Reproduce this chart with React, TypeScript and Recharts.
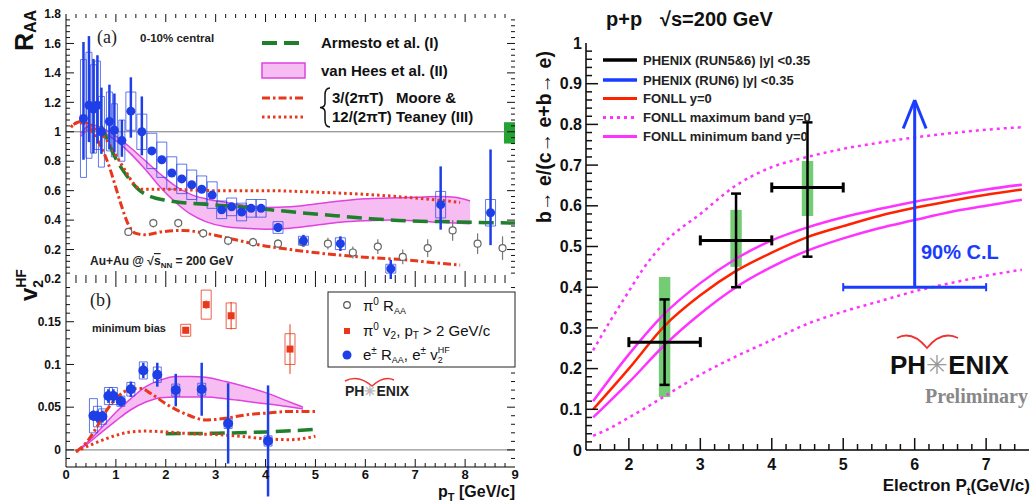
import React from "react";
import {
  ComposedChart,
  Line,
  Area,
  Scatter,
  XAxis,
  YAxis,
  ErrorBar,
  ReferenceArea,
  ReferenceLine,
} from "recharts";

const SANS = "'Liberation Sans', Arial, Helvetica, sans-serif";
const NARROW = "'Liberation Sans Narrow', 'Liberation Sans', Arial, sans-serif";
const SERIF = "'Liberation Serif', 'Times New Roman', serif";

// ---------- ticks ----------
const ptTicks = [0, 1, 2, 3, 4, 5, 6, 7, 8, 9];
const raaTicks = [0.2, 0.4, 0.6, 0.8, 1, 1.2, 1.4, 1.6, 1.8];
const v2Ticks = [0, 0.05, 0.1, 0.15, 0.2];
const elPtTicks = [2, 3, 4, 5, 6, 7];
const fracTicks = [0, 0.1, 0.2, 0.3, 0.4, 0.5, 0.6, 0.7, 0.8, 0.9, 1];

// ---------- panel (a): R_AA 0-10% central ----------
const eRaaPt = [0.35, 0.46, 0.55, 0.63, 0.71, 0.87, 0.97, 1.12, 1.3, 1.52, 1.72, 1.92, 2.12, 2.32, 2.52, 2.72, 2.93, 3.12, 3.32, 3.52, 3.71, 3.91, 4.25, 4.76, 5.5, 6.51, 7.51, 8.51];
const eRaa = [1.09, 1.18, 1.155, 1.18, 1.0, 1.07, 1.01, 0.94, 1.14, 1.0, 0.87, 0.81, 0.72, 0.68, 0.64, 0.61, 0.57, 0.47, 0.49, 0.455, 0.48, 0.48, 0.35, 0.26, 0.24, 0.07, 0.505, 0.45];
const eRaaStatLo = [0.28, 0.25, 0.3, 0.26, 0.15, 0.19, 0.15, 0.11, 0.18, 0.16, 0.02, 0.02, 0.02, 0.02, 0.02, 0.02, 0.02, 0.02, 0.02, 0.02, 0.02, 0.02, 0.03, 0.04, 0.05, 0.07, 0.17, 0.22];
const eRaaStatHi = [0.52, 0.47, 0.34, 0.34, 0.3, 0.25, 0.25, 0.14, 0.23, 0.24, 0.02, 0.02, 0.02, 0.02, 0.02, 0.02, 0.02, 0.02, 0.02, 0.02, 0.02, 0.02, 0.03, 0.04, 0.05, 0.06, 0.26, 0.43];
const eRaaSys = [0.4, 0.36, 0.3, 0.3, 0.24, 0.2, 0.18, 0.14, 0.13, 0.12, 0.12, 0.12, 0.11, 0.1, 0.1, 0.09, 0.09, 0.06, 0.06, 0.06, 0.06, 0.06, 0.04, 0.03, 0.04, 0.03, 0.09, 0.09];

const pi0Pt = [1.25, 1.75, 2.25, 2.75, 3.25, 3.75, 4.25, 4.75, 5.25, 5.75, 6.25, 6.75, 7.25, 7.75, 8.25, 8.75];
const pi0Raa = [0.32, 0.38, 0.38, 0.31, 0.26, 0.25, 0.24, 0.25, 0.24, 0.18, 0.22, 0.15, 0.21, 0.33, 0.24, 0.21];
const pi0RaaErr = [0.02, 0.03, 0.03, 0.03, 0.03, 0.03, 0.03, 0.03, 0.04, 0.04, 0.05, 0.05, 0.06, 0.07, 0.07, 0.08];

const armPt = [0.7, 0.8, 0.95, 1.2, 1.48, 1.7, 2.0, 2.3, 2.9, 3.5, 4.1, 4.7, 5.4, 6.1, 6.8, 7.5, 8.2, 9.0];
const armRaa = [1.04, 0.97, 0.85, 0.71, 0.6, 0.56, 0.535, 0.52, 0.505, 0.49, 0.47, 0.45, 0.43, 0.41, 0.395, 0.39, 0.385, 0.38];

const vhPt = [0.3, 0.5, 0.7, 1.0, 1.3, 1.6, 1.9, 2.2, 2.5, 2.8, 3.2, 3.6, 4.0, 4.5, 5.0, 5.5, 6.0, 6.5, 7.0, 7.5, 7.8, 8.1];
const vhLo = [0.97, 1.02, 1.0, 0.94, 0.85, 0.74, 0.62, 0.52, 0.44, 0.39, 0.355, 0.345, 0.338, 0.345, 0.365, 0.385, 0.395, 0.4, 0.395, 0.385, 0.38, 0.375];
const vhHi = [0.99, 1.05, 1.03, 0.97, 0.89, 0.8, 0.71, 0.63, 0.575, 0.545, 0.52, 0.5, 0.485, 0.49, 0.51, 0.53, 0.545, 0.55, 0.555, 0.56, 0.555, 0.53];

const mt12Pt = [0.1, 0.2, 0.4, 0.6, 0.8, 1.0, 1.2, 1.35, 1.5, 2.0, 3.0, 4.0, 5.0, 6.0, 7.0, 7.5, 7.9];
const mt12Raa = [1.03, 1.06, 1.06, 1.02, 0.95, 0.84, 0.73, 0.65, 0.61, 0.61, 0.6, 0.6, 0.59, 0.575, 0.55, 0.535, 0.52];
const mt3Pt = [0.15, 0.3, 0.5, 0.7, 0.85, 1.0, 1.1, 1.25, 1.4, 1.6, 1.9, 2.35, 2.8, 3.35, 3.9, 4.5, 5.4, 6.1, 6.8, 7.4, 7.9];
const mt3Raa = [1.05, 1.07, 1.01, 0.9, 0.78, 0.62, 0.51, 0.37, 0.31, 0.3, 0.32, 0.33, 0.31, 0.27, 0.23, 0.2, 0.165, 0.145, 0.13, 0.11, 0.095];

// ---------- panel (b): v2 minimum bias ----------
const v2Pt = [0.55, 0.63, 0.73, 0.85, 0.95, 1.1, 1.3, 1.55, 1.83, 2.2, 2.72, 3.25, 4.05];
const v2 = [0.04, 0.039, 0.039, 0.063, 0.063, 0.057, 0.071, 0.093, 0.088, 0.07, 0.071, 0.031, 0.0105];
const v2Stat = [0.006, 0.007, 0.007, 0.008, 0.008, 0.006, 0.009, 0.009, 0.014, 0.019, 0.031, 0.047, 0.065];
const v2Sys = [0.02, 0.012, 0.009, 0.01, 0.01, 0.006, 0.008, 0.01, 0.009, 0.007, 0.007, 0.006, 0.006];

const pi0V2Pt = [2.4, 2.81, 3.31, 4.49];
const pi0V2 = [0.14, 0.17, 0.157, 0.118];
const pi0V2Stat = [0.004, 0.005, 0.016, 0.029];
const pi0V2Sys = [0.007, 0.017, 0.015, 0.018];

const vhbPt = [0.2, 0.45, 0.7, 1.0, 1.3, 1.6, 1.9, 2.2, 2.5, 2.8, 3.2, 3.6, 4.0, 4.4, 4.75];
const vhbLo = [-0.002, 0.008, 0.02, 0.034, 0.047, 0.056, 0.061, 0.062, 0.062, 0.062, 0.06, 0.057, 0.054, 0.051, 0.048];
const vhbHi = [-0.002, 0.01, 0.025, 0.044, 0.06, 0.074, 0.082, 0.086, 0.086, 0.085, 0.08, 0.074, 0.067, 0.058, 0.05];

const mt3bPt = [0.2, 0.4, 0.6, 0.8, 1.0, 1.3, 1.5, 1.7, 2.0, 2.4, 2.8, 3.2, 3.6, 4.0, 4.5, 5.0];
const mt3bV2 = [-0.002, 0.008, 0.025, 0.045, 0.06, 0.071, 0.072, 0.066, 0.054, 0.042, 0.035, 0.037, 0.041, 0.043, 0.045, 0.045];
const mt12bPt = [0.2, 0.5, 0.8, 1.0, 1.3, 1.6, 2.0, 2.5, 3.0, 3.5, 4.0, 4.5, 5.0];
const mt12bV2 = [-0.002, 0.006, 0.013, 0.017, 0.021, 0.022, 0.021, 0.019, 0.018, 0.016, 0.013, 0.012, 0.016];
const armbPt = [2.0, 3.0, 4.0, 5.0];
const armbV2 = [0.019, 0.0195, 0.021, 0.024];

// ---------- right: b/(c+b) in p+p ----------
const binCenter = [2.5, 3.5, 4.5];
const binHalf = [0.5, 0.5, 0.5];
const ratio = [0.265, 0.515, 0.645];
const ratioStatLo = [0.105, 0.115, 0.17];
const ratioStatHi = [0.105, 0.115, 0.16];
const ratioSysLo = [0.135, 0.065, 0.07];
const ratioSysHi = [0.16, 0.075, 0.065];

const limitPt = [5, 7];
const limitLow = 0.4;
const limitTop = 0.86;

const fonllPt = [1.5, 2.0, 2.5, 3.0, 3.5, 4.0, 4.5, 5.0, 5.5, 6.0, 6.5, 7.0, 7.5];
const fonll = [0.1, 0.2, 0.305, 0.38, 0.44, 0.485, 0.523, 0.55, 0.575, 0.595, 0.612, 0.627, 0.64];
const fonllMinHi = [0.12, 0.235, 0.335, 0.41, 0.47, 0.515, 0.547, 0.572, 0.592, 0.61, 0.625, 0.64, 0.652];
const fonllMinLo = [0.08, 0.166, 0.258, 0.335, 0.4, 0.45, 0.49, 0.52, 0.545, 0.565, 0.585, 0.6, 0.615];
const fonllMaxPt = [1.5, 1.75, 2.0, 2.2, 2.5, 3.0, 3.5, 4.0, 4.5, 5.0, 5.5, 6.0, 6.5, 7.0, 7.5];
const fonllMaxHi = [0.245, 0.32, 0.39, 0.445, 0.51, 0.58, 0.65, 0.695, 0.72, 0.74, 0.755, 0.768, 0.778, 0.787, 0.793];
const fonllMaxLo = [0.035, 0.055, 0.08, 0.1, 0.132, 0.185, 0.23, 0.27, 0.31, 0.34, 0.365, 0.39, 0.41, 0.428, 0.443];

// ---------- helpers ----------
const steps = (a: number, b: number, s: number) => {
  const n = Math.round((b - a) / s);
  return Array.from({ length: n + 1 }, (_, i) => +(a + i * s).toFixed(4));
};
const pts = (xs: number[], ys: number[]) => xs.map((x, i) => ({ x, y: ys[i] }));
const band = (xs: number[], lo: number[], hi: number[]) => xs.map((x, i) => ({ x, r: [lo[i], hi[i]] }));
const isMaj = (arr: number[], v: number) => arr.some((m) => Math.abs(m - v) < 1e-6);

const BLUE = "#1f3fe6";
const RED = "#e8381c";
const GREEN = "#1f7f2a";
const MAG = "#e042e0";
const MAGFILL = "#f6bdf3";

// plot frames of the three panels (must match the chart margins below)
const FRAME_A = { x0: 66, x1: 515, y0: 14, y1: 279, xd: [0, 9], yd: [0, 1.8] };
const FRAME_B = { x0: 66, x1: 515, y0: 279, y1: 467, xd: [0, 9], yd: [-0.02, 0.2] };
const FRAME_C = { x0: 586, x1: 1029, y0: 43, y1: 450, xd: [1.4, 7.6], yd: [0, 1] };

function tickLabel(side: string, majors: number[], o: any = {}) {
  const { fmt = (v: number) => String(v), size = 12, font = SANS, off = 12 } = o;
  return (p: any) => {
    const { x, y, payload } = p;
    const v = payload.value;
    if (!isMaj(majors, v)) return <g />;
    if (side === "bottom")
      return (
        <text x={x} y={y + off} textAnchor="middle" fontFamily={font} fontSize={size} fontWeight="bold" fill="#111">
          {fmt(v)}
        </text>
      );
    return (
      <text x={x - off} y={y} dy="0.35em" textAnchor="end" fontFamily={font} fontSize={size} fontWeight="bold" fill="#111">
        {fmt(v)}
      </text>
    );
  };
}

const blank = () => <g />;

// ROOT-style inward tick marks around a frame
function FrameTicks({ f, xs, xMaj, ys, yMaj, sides, long = 8, short = 4, w = 1 }: any) {
  const px = (v: number) => f.x0 + ((v - f.xd[0]) / (f.xd[1] - f.xd[0])) * (f.x1 - f.x0);
  const py = (v: number) => f.y1 - ((v - f.yd[0]) / (f.yd[1] - f.yd[0])) * (f.y1 - f.y0);
  const inner = (v: number, d: number[]) => v > d[0] + 1e-6 && v < d[1] - 1e-6;
  const out: any[] = [];
  xs.filter((v: number) => inner(v, f.xd)).forEach((t: number, i: number) => {
    const L = isMaj(xMaj, t) ? long : short;
    const x = px(t);
    if (sides.includes("bottom")) out.push(<line key={"b" + i} x1={x} y1={f.y1} x2={x} y2={f.y1 - L} />);
    if (sides.includes("top")) out.push(<line key={"t" + i} x1={x} y1={f.y0} x2={x} y2={f.y0 + L} />);
  });
  ys.filter((v: number) => inner(v, f.yd)).forEach((t: number, i: number) => {
    const L = isMaj(yMaj, t) ? long : short;
    const y = py(t);
    if (sides.includes("left")) out.push(<line key={"l" + i} x1={f.x0} y1={y} x2={f.x0 + L} y2={y} />);
    if (sides.includes("right")) out.push(<line key={"r" + i} x1={f.x1} y1={y} x2={f.x1 - L} y2={y} />);
  });
  return (
    <g stroke="#111" strokeWidth={w}>
      {out}
    </g>
  );
}

function PanelA() {
  const blue = eRaaPt.map((x, i) => ({ x, y: eRaa[i], e: [eRaaStatLo[i], eRaaStatHi[i]] }));
  const gray = pi0Pt.map((x, i) => ({ x, y: pi0Raa[i], e: pi0RaaErr[i] }));
  return (
    <div style={{ position: "absolute", left: 0, top: 0 }}>
      <ComposedChart width={525} height={285} margin={{ top: 14, right: 10, bottom: 6, left: 10 }}>
        <XAxis dataKey="x" type="number" domain={[0, 9]} ticks={ptTicks} interval={0} allowDataOverflow height={0} tickLine={false} axisLine={{ stroke: "#000" }} tick={blank} />
        <XAxis xAxisId="top" orientation="top" type="number" domain={[0, 9]} height={0} tick={false} tickLine={false} axisLine={{ stroke: "#000" }} />
        <YAxis dataKey="y" type="number" domain={[0, 1.8]} ticks={raaTicks} interval={0} allowDataOverflow width={56} tickSize={0} tickMargin={0} tickLine={false} axisLine={{ stroke: "#000" }} tick={tickLabel("left", raaTicks, { off: 5, size: 12, fmt: (v: number) => (v === 1 ? "1" : v.toFixed(1)) })} />
        <YAxis yAxisId="right" orientation="right" type="number" domain={[0, 1.8]} width={0} tick={false} tickLine={false} axisLine={{ stroke: "#000" }} />
        <ReferenceLine y={1} stroke="#777" strokeWidth={1} />
        <ReferenceArea x1={8.78} x2={9} y1={0.92} y2={1.065} fill="#22a332" fillOpacity={1} stroke="none" ifOverflow="hidden" />
        <Area data={band(vhPt, vhLo, vhHi)} dataKey="r" type="monotone" stroke={MAG} strokeWidth={1.5} fill={MAGFILL} fillOpacity={1} isAnimationActive={false} />
        <Line data={pts(armPt, armRaa)} dataKey="y" type="monotone" dot={false} stroke={GREEN} strokeWidth={3.5} strokeDasharray="15 7" isAnimationActive={false} />
        <Line data={pts(mt12Pt, mt12Raa)} dataKey="y" type="monotone" dot={false} stroke={RED} strokeWidth={3} strokeDasharray="2.5 3" isAnimationActive={false} />
        <Line data={pts(mt3Pt, mt3Raa)} dataKey="y" type="monotone" dot={false} stroke={RED} strokeWidth={3} strokeDasharray="8 3 2.5 3" isAnimationActive={false} />
        {eRaaPt.map((x, i) => (
          <ReferenceArea key={i} x1={x - (x < 1.2 ? 0.06 : 0.1)} x2={x + (x < 1.2 ? 0.06 : 0.1)} y1={eRaa[i] - eRaaSys[i]} y2={eRaa[i] + eRaaSys[i]} fill="none" stroke={BLUE} strokeOpacity={0.7} strokeWidth={1} ifOverflow="hidden" />
        ))}
        <Scatter data={gray} dataKey="y" isAnimationActive={false} shape={(p: any) => <circle cx={p.cx} cy={p.cy} r={3.5} fill="#fff" stroke="#666" strokeWidth={1.2} />}>
          <ErrorBar dataKey="e" direction="y" width={0} stroke="#777" strokeWidth={1.2} />
        </Scatter>
        <Scatter data={blue} dataKey="y" isAnimationActive={false} shape={(p: any) => <circle cx={p.cx} cy={p.cy} r={4.5} fill={BLUE} />}>
          <ErrorBar dataKey="e" direction="y" width={0} stroke={BLUE} strokeWidth={2.5} />
        </Scatter>
      </ComposedChart>
    </div>
  );
}

function PanelB() {
  const blue = v2Pt.map((x, i) => ({ x, y: v2[i], e: v2Stat[i] }));
  const red = pi0V2Pt.map((x, i) => ({ x, y: pi0V2[i], e: pi0V2Stat[i] }));
  return (
    <div style={{ position: "absolute", left: 0, top: 270 }}>
      <ComposedChart width={525} height={234} margin={{ top: 9, right: 10, bottom: 7, left: 10 }}>
        <XAxis dataKey="x" type="number" domain={[0, 9]} ticks={ptTicks} interval={0} allowDataOverflow height={30} tickSize={0} tickMargin={0} tickLine={false} axisLine={{ stroke: "#000" }} tick={tickLabel("bottom", ptTicks, { off: 12, size: 13 })} />
        <XAxis xAxisId="top" orientation="top" type="number" domain={[0, 9]} height={0} tick={false} tickLine={false} axisLine={{ stroke: "#000" }} />
        <YAxis dataKey="y" type="number" domain={[-0.02, 0.2]} ticks={v2Ticks} interval={0} allowDataOverflow width={56} tickSize={0} tickMargin={0} tickLine={false} axisLine={{ stroke: "#000" }} tick={tickLabel("left", v2Ticks, { off: 5, size: 12 })} />
        <YAxis yAxisId="right" orientation="right" type="number" domain={[-0.02, 0.2]} width={0} tick={false} tickLine={false} axisLine={{ stroke: "#000" }} />
        <ReferenceLine y={0} stroke="#777" strokeWidth={1} />
        <Area data={band(vhbPt, vhbLo, vhbHi)} dataKey="r" type="monotone" stroke={MAG} strokeWidth={1.5} fill={MAGFILL} fillOpacity={1} isAnimationActive={false} />
        <Line data={pts(armbPt, armbV2)} dataKey="y" type="monotone" dot={false} stroke={GREEN} strokeWidth={3.5} strokeDasharray="15 7" isAnimationActive={false} />
        <Line data={pts(mt12bPt, mt12bV2)} dataKey="y" type="monotone" dot={false} stroke={RED} strokeWidth={3} strokeDasharray="2.5 3" isAnimationActive={false} />
        <Line data={pts(mt3bPt, mt3bV2)} dataKey="y" type="monotone" dot={false} stroke={RED} strokeWidth={3} strokeDasharray="8 3 2.5 3" isAnimationActive={false} />
        {v2Pt.map((x, i) => (
          <ReferenceArea key={"b" + i} x1={x - 0.08} x2={x + 0.08} y1={v2[i] - v2Sys[i]} y2={v2[i] + v2Sys[i]} fill="none" stroke={BLUE} strokeOpacity={0.7} strokeWidth={1} ifOverflow="hidden" />
        ))}
        {pi0V2Pt.map((x, i) => (
          <ReferenceArea key={"r" + i} x1={x - 0.1} x2={x + 0.1} y1={pi0V2[i] - pi0V2Sys[i]} y2={pi0V2[i] + pi0V2Sys[i]} fill="none" stroke={RED} strokeOpacity={0.8} strokeWidth={1} ifOverflow="hidden" />
        ))}
        <Scatter data={red} dataKey="y" isAnimationActive={false} shape={(p: any) => <rect x={p.cx - 3.5} y={p.cy - 3.5} width={7} height={7} fill={RED} />}>
          <ErrorBar dataKey="e" direction="y" width={0} stroke={RED} strokeWidth={1} />
        </Scatter>
        <Scatter data={blue} dataKey="y" isAnimationActive={false} shape={(p: any) => <circle cx={p.cx} cy={p.cy} r={5} fill={BLUE} />}>
          <ErrorBar dataKey="e" direction="y" width={0} stroke={BLUE} strokeWidth={2.5} />
        </Scatter>
      </ComposedChart>
    </div>
  );
}

function PanelC() {
  const cross = binCenter.map((x, i) => ({ x, y: ratio[i], ex: binHalf[i], ey: [ratioStatLo[i], ratioStatHi[i]] }));
  const AB = "#1a3cff";
  return (
    <div style={{ position: "absolute", left: 530, top: 0 }}>
      <ComposedChart width={503} height={504} margin={{ top: 43, right: 4, bottom: 24, left: 10 }}>
        <XAxis dataKey="x" type="number" domain={[1.4, 7.6]} ticks={elPtTicks} interval={0} allowDataOverflow height={30} tickSize={0} tickMargin={0} tickLine={false} axisLine={{ stroke: "#000", strokeWidth: 1.5 }} tick={tickLabel("bottom", elPtTicks, { off: 20, size: 16, font: NARROW })} />
        <XAxis xAxisId="top" orientation="top" type="number" domain={[1.4, 7.6]} height={0} tick={false} tickLine={false} axisLine={{ stroke: "#000" }} />
        <YAxis dataKey="y" type="number" domain={[0, 1]} ticks={fracTicks} interval={0} allowDataOverflow width={46} tickSize={0} tickMargin={0} tickLine={false} axisLine={{ stroke: "#000", strokeWidth: 1.5 }} tick={tickLabel("left", fracTicks, { off: 4, size: 16, font: NARROW, fmt: (v: number) => (v === 0 ? "0" : v === 1 ? "1" : v.toFixed(1)) })} />
        <YAxis yAxisId="right" orientation="right" type="number" domain={[0, 1]} width={0} tick={false} tickLine={false} axisLine={{ stroke: "#000" }} />
        <Line data={pts(fonllMaxPt, fonllMaxHi)} dataKey="y" type="monotone" dot={false} stroke="#ff33ff" strokeWidth={2.5} strokeDasharray="3 4" isAnimationActive={false} />
        <Line data={pts(fonllMaxPt, fonllMaxLo)} dataKey="y" type="monotone" dot={false} stroke="#ff33ff" strokeWidth={2.5} strokeDasharray="3 4" isAnimationActive={false} />
        <Line data={pts(fonllPt, fonllMinHi)} dataKey="y" type="monotone" dot={false} stroke="#ff33ff" strokeWidth={2.5} isAnimationActive={false} />
        <Line data={pts(fonllPt, fonllMinLo)} dataKey="y" type="monotone" dot={false} stroke="#ff33ff" strokeWidth={2.5} isAnimationActive={false} />
        <Line data={pts(fonllPt, fonll)} dataKey="y" type="monotone" dot={false} stroke="#ff2200" strokeWidth={2.5} isAnimationActive={false} />
        {binCenter.map((x, i) => (
          <ReferenceArea key={i} x1={x - 0.08} x2={x + 0.08} y1={ratio[i] - ratioSysLo[i]} y2={ratio[i] + ratioSysHi[i]} fill="#5cc45c" fillOpacity={0.85} stroke="none" />
        ))}
        <Scatter data={cross} dataKey="y" isAnimationActive={false} shape={(p: any) => <circle cx={p.cx} cy={p.cy} r={2} fill="#000" />}>
          <ErrorBar dataKey="ex" direction="x" width={5} stroke="#000" strokeWidth={3} />
          <ErrorBar dataKey="ey" direction="y" width={5} stroke="#000" strokeWidth={2.5} />
        </Scatter>
        <ReferenceLine segment={[{ x: limitPt[0], y: limitLow }, { x: limitPt[1], y: limitLow }]} stroke={AB} strokeWidth={3} />
        <ReferenceLine segment={[{ x: limitPt[0], y: limitLow - 0.01 }, { x: limitPt[0], y: limitLow + 0.01 }]} stroke={AB} strokeWidth={2} />
        <ReferenceLine segment={[{ x: limitPt[1], y: limitLow - 0.01 }, { x: limitPt[1], y: limitLow + 0.01 }]} stroke={AB} strokeWidth={2} />
        <ReferenceLine segment={[{ x: 6, y: limitLow }, { x: 6, y: limitTop }]} stroke={AB} strokeWidth={3} />
        <ReferenceLine segment={[{ x: 5.84, y: limitTop - 0.07 }, { x: 6, y: limitTop }]} stroke={AB} strokeWidth={3} />
        <ReferenceLine segment={[{ x: 6.16, y: limitTop - 0.07 }, { x: 6, y: limitTop }]} stroke={AB} strokeWidth={3} />
      </ComposedChart>
    </div>
  );
}

function Overlay() {
  const legA = { fontFamily: SANS, fontWeight: "bold" as const, fontSize: 15, fill: "#111" };
  const legR = { fontFamily: NARROW, fontWeight: "bold" as const, fontSize: 13, fill: "#222" };
  return (
    <svg width={1033} height={504} style={{ position: "absolute", left: 0, top: 0, pointerEvents: "none" }}>
      <FrameTicks f={FRAME_A} xs={steps(0, 9, 0.2)} xMaj={ptTicks} ys={steps(0, 1.8, 0.04)} yMaj={raaTicks} sides={["bottom", "top", "left", "right"]} />
      <FrameTicks f={FRAME_B} xs={steps(0, 9, 0.2)} xMaj={ptTicks} ys={steps(-0.02, 0.2, 0.01)} yMaj={v2Ticks} sides={["bottom", "top", "left", "right"]} />
      <FrameTicks f={FRAME_C} xs={steps(1.4, 7.6, 0.2)} xMaj={elPtTicks} ys={steps(0, 1, 0.02)} yMaj={fracTicks} sides={["bottom", "left"]} long={12} short={6} w={1.5} />

      {/* panel (a) */}
      <text transform="translate(33,51) rotate(-90)" fontFamily={SANS} fontWeight="bold" fontSize={25} fill="#111">
        R<tspan fontSize={16} dy={3}>AA</tspan>
      </text>
      <text transform="translate(37,301) rotate(-90)" fontFamily={SANS} fontWeight="bold" fontSize={24} fill="#111">
        v<tspan fontSize={14} dy={6}>2</tspan>
        <tspan fontSize={14} dx={-8} dy={-17}>HF</tspan>
      </text>
      <text x={97} y={43} fontFamily={SERIF} fontSize={18} fill="#222">(a)</text>
      <text x={140} y={42} fontFamily={SANS} fontWeight="bold" fontSize={11.5} fill="#222">0-10% central</text>
      <line x1={262} y1={43} x2={305} y2={43} stroke={GREEN} strokeWidth={4} strokeDasharray="15 7" />
      <text x={321} y={48} {...legA}>Armesto et al. (I)</text>
      <rect x={262} y={63} width={43} height={15} fill={MAGFILL} stroke={MAG} strokeWidth={1.5} />
      <text x={321} y={76} {...legA}>van Hees et al. (II)</text>
      <line x1={262} y1={98} x2={305} y2={98} stroke={RED} strokeWidth={3} strokeDasharray="8 3 2.5 3" />
      <line x1={262} y1={117} x2={305} y2={117} stroke={RED} strokeWidth={3} strokeDasharray="2.5 3" />
      <path d="M330,88 Q325,88 325,95 L325,103 Q325,107.5 320,107.5 Q325,108 325,112 L325,120 Q325,127 330,127" fill="none" stroke="#111" strokeWidth={1.5} />
      <text x={332} y={103} {...legA}>3/(2πT)</text>
      <text x={332} y={122} {...legA}>12/(2πT)</text>
      <text x={396} y={103} {...legA}>Moore &amp;</text>
      <text x={396} y={122} {...legA}>Teaney (III)</text>
      <text x={90} y={265} fontFamily={SANS} fontWeight="bold" fontSize={12} fill="#222">
        Au+Au @ √<tspan textDecoration="overline">s</tspan>
        <tspan fontSize={8} dy={3}>NN</tspan>
        <tspan dy={-3}> = 200 GeV</tspan>
      </text>

      {/* panel (b) */}
      <text x={90} y={306} fontFamily={SERIF} fontSize={18} fill="#222">(b)</text>
      <text x={92} y={332} fontFamily={SANS} fontWeight="bold" fontSize={11} fill="#222">minimum bias</text>
      <rect x={328} y={292} width={187} height={75} fill="#fff" stroke="#222" strokeWidth={1} />
      <circle cx={347} cy={305} r={3.3} fill="#fff" stroke="#555" strokeWidth={1.2} />
      <text x={363} y={311} fontFamily={SANS} fontSize={15} fill="#111">
        π<tspan fontSize={10} dy={-6}>0</tspan>
        <tspan dy={6}> R</tspan>
        <tspan fontSize={9} dy={3}>AA</tspan>
      </text>
      <rect x={344} y={328} width={6} height={6} fill={RED} />
      <text x={363} y={336} fontFamily={SANS} fontSize={15} fill="#111">
        π<tspan fontSize={10} dy={-6}>0</tspan>
        <tspan dy={6}> v</tspan>
        <tspan fontSize={10} dy={3}>2</tspan>
        <tspan dy={-3}>, p</tspan>
        <tspan fontSize={10} dy={3}>T</tspan>
        <tspan dy={-3}> &gt; 2 GeV/c</tspan>
      </text>
      <circle cx={347} cy={355} r={4.5} fill={BLUE} />
      <text x={363} y={360} fontFamily={SANS} fontSize={15} fill="#111">
        e<tspan fontSize={10} dy={-6}>±</tspan>
        <tspan dy={6}> R</tspan>
        <tspan fontSize={9} dy={3}>AA</tspan>
        <tspan dy={-3}>, e</tspan>
        <tspan fontSize={10} dy={-6}>±</tspan>
        <tspan dy={6}> v</tspan>
        <tspan fontSize={9} dy={3}>2</tspan>
        <tspan fontSize={9} dx={-5} dy={-10}>HF</tspan>
      </text>
      <path d="M345,381 Q358,374 372,386 Q384,375 394,380" fill="none" stroke="#e33" strokeWidth={1.5} />
      <text x={345} y={396} fontFamily={SANS} fontWeight="bold" fontSize={14} fill="#222">
        PH<tspan fill="#bbb">✳</tspan>ENIX
      </text>
      <text x={515} y={497} textAnchor="end" fontFamily={SANS} fontWeight="bold" fontSize={16} fill="#111">
        p<tspan fontSize={11} dy={4}>T</tspan>
        <tspan dy={-4}> [GeV/c]</tspan>
      </text>

      {/* right panel */}
      <text x={606} y={26} fontFamily={NARROW} fontWeight="bold" fontSize={20} fill="#111">p+p</text>
      <text x={660} y={26} fontFamily={NARROW} fontWeight="bold" fontSize={20} fill="#111">√s=200 GeV</text>
      <text transform="translate(551,137) rotate(-90)" textAnchor="middle" fontFamily={NARROW} fontWeight="bold" fontSize={19.5} fill="#111">
        b→ e/(c→ e+b→ e)
      </text>
      <line x1={603} y1={60} x2={637} y2={60} stroke="#000" strokeWidth={3.5} />
      <text x={643} y={64.5} {...legR}>PHENIX (RUN5&amp;6) |y| &lt;0.35</text>
      <line x1={603} y1={80} x2={637} y2={80} stroke="#1a3cff" strokeWidth={3.5} />
      <text x={643} y={84.5} {...legR}>PHENIX (RUN6) |y| &lt;0.35</text>
      <line x1={603} y1={98.5} x2={637} y2={98.5} stroke="#ff2200" strokeWidth={3} />
      <text x={643} y={103} {...legR}>FONLL y=0</text>
      <line x1={603} y1={117.5} x2={637} y2={117.5} stroke="#ff33ff" strokeWidth={3} strokeDasharray="3 4" />
      <text x={643} y={122} {...legR}>FONLL maximum band y=0</text>
      <line x1={603} y1={136.5} x2={637} y2={136.5} stroke="#ff33ff" strokeWidth={3} />
      <text x={643} y={141} {...legR}>FONLL minimum band y=0</text>
      <text x={921} y={259} fontFamily={NARROW} fontWeight="bold" fontSize={20} fill="#1a3cff">90% C.L</text>
      <path d="M897,338 Q912,330 927,348 Q942,330 958,338" fill="none" stroke="#e33" strokeWidth={1.8} />
      <text x={890} y={374} fontFamily={NARROW} fontWeight="bold" fontSize={26} fill="#111">
        PH<tspan fill="#999" fontWeight="normal">✳</tspan>ENIX
      </text>
      <text x={925} y={403} fontFamily={SERIF} fontWeight="bold" fontSize={20} fill="#888">Preliminary</text>
      <text x={1030} y={491} textAnchor="end" fontFamily={NARROW} fontWeight="bold" fontSize={17} fill="#111">
        Electron P<tspan fontSize={11} dy={4}>t</tspan>
        <tspan dy={-4}>(GeV/c)</tspan>
      </text>
    </svg>
  );
}

export default function App() {
  return (
    <div style={{ position: "absolute", left: 0, top: 0, width: 1033, height: 504, background: "#fff", overflow: "hidden" }}>
      <PanelA />
      <PanelB />
      <PanelC />
      <Overlay />
    </div>
  );
}
